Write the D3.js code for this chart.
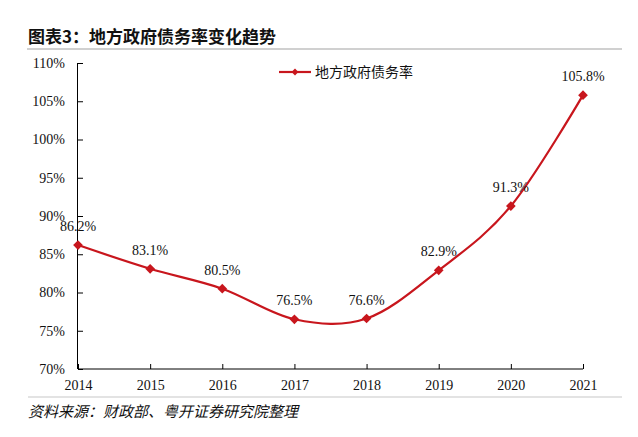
<!DOCTYPE html>
<html>
<head>
<meta charset="utf-8">
<script src="https://cdn.jsdelivr.net/npm/d3@7"></script>
<style>
  body { margin: 0; background: #fff; }
  svg { display: block; }
</style>
</head>
<body>
<div id="chart"></div>
<script>
const years = [2014, 2015, 2016, 2017, 2018, 2019, 2020, 2021];
const debtRatio = [86.2, 83.1, 80.5, 76.5, 76.6, 82.9, 91.3, 105.8];
const yTicks = [70, 75, 80, 85, 90, 95, 100, 105, 110];
const seriesName = "地方政府债务率";
const title = "图表3：地方政府债务率变化趋势";
const source = "资料来源：财政部、粤开证券研究院整理";

(function() {
    const width = 638, height = 437;
    const red = "#c8161d";
    const numFont = "'Liberation Serif', 'Times New Roman', serif";
    const cjkFont = "'Noto Sans CJK SC', sans-serif";

    const svg = d3.select("#chart").append("svg")
        .attr("width", width)
        .attr("height", height);

    // title + rules
    svg.append("text")
        .attr("x", 28).attr("y", 43)
        .attr("font-family", cjkFont)
        .attr("font-weight", "bold")
        .attr("font-size", 17)
        .attr("fill", "#111")
        .text(title);
    svg.append("line")
        .attr("x1", 27).attr("x2", 622).attr("y1", 49).attr("y2", 49)
        .attr("stroke", "#d0d0d0").attr("stroke-width", 2);
    svg.append("line")
        .attr("x1", 28).attr("x2", 622).attr("y1", 397).attr("y2", 397)
        .attr("stroke", "#c8c8c8").attr("stroke-width", 1.2);
    svg.append("text")
        .attr("x", 28).attr("y", 417)
        .attr("font-family", cjkFont)
        .attr("font-style", "italic")
        .attr("font-size", 15)
        .attr("fill", "#111")
        .attr("transform", "skewX(0)")
        .text(source);

    const x = d3.scalePoint().domain(years).range([78, 583]);
    const y = d3.scaleLinear().domain([70, 110]).range([369, 63]);

    // y axis
    const gy = svg.append("g").attr("transform", "translate(78,0)")
        .call(d3.axisLeft(y).tickValues(yTicks).tickSize(-5).tickPadding(13)
            .tickFormat(d => d + "%"));
    gy.select(".domain").attr("d", `M-0.5,${y(110)}V${y(70)}`).attr("stroke", "#000");
    gy.selectAll(".tick line").attr("stroke", "#000");
    gy.selectAll("text").attr("font-family", numFont).attr("font-size", 14).attr("fill", "#111");

    // x axis
    const gx = svg.append("g").attr("transform", `translate(0,${y(70)})`)
        .call(d3.axisBottom(x).tickSize(-5).tickPadding(11));
    gx.select(".domain").attr("d", `M${x(2014)},0H${x(2021)}`).attr("stroke", "#000");
    gx.selectAll(".tick line").attr("stroke", "#000");
    gx.selectAll("text").attr("font-family", numFont).attr("font-size", 14).attr("fill", "#111");

    const pts = years.map((yr, i) => ({yr, v: debtRatio[i]}));

    const line = d3.line()
        .x(d => x(d.yr))
        .y(d => y(d.v))
        .curve(d3.curveCardinal.tension(0));

    svg.append("path")
        .datum(pts)
        .attr("d", line)
        .attr("fill", "none")
        .attr("stroke", red)
        .attr("stroke-width", 2.2);

    const diamond = d3.symbol().type(d3.symbolDiamond2).size(60);

    svg.append("g").selectAll("path")
        .data(pts)
        .join("path")
        .attr("transform", d => `translate(${x(d.yr)},${y(d.v)})`)
        .attr("d", diamond)
        .attr("fill", red);

    svg.append("g").selectAll("text")
        .data(pts)
        .join("text")
        .attr("x", d => x(d.yr))
        .attr("y", d => y(d.v) - 14)
        .attr("text-anchor", "middle")
        .attr("font-family", numFont)
        .attr("font-size", 14)
        .attr("fill", "#111")
        .text(d => d.v.toFixed(1) + "%");

    // legend
    const lg = svg.append("g").attr("transform", "translate(279,72)");
    lg.append("line").attr("x1", 0).attr("x2", 32).attr("stroke", red).attr("stroke-width", 2.2);
    lg.append("path").attr("transform", "translate(16,0)").attr("d", d3.symbol().type(d3.symbolDiamond2).size(30)).attr("fill", red);
    lg.append("text").attr("x", 36).attr("y", 5)
        .attr("font-family", cjkFont).attr("font-size", 14).attr("fill", "#111")
        .text(seriesName);
}());
</script>
</body>
</html>
